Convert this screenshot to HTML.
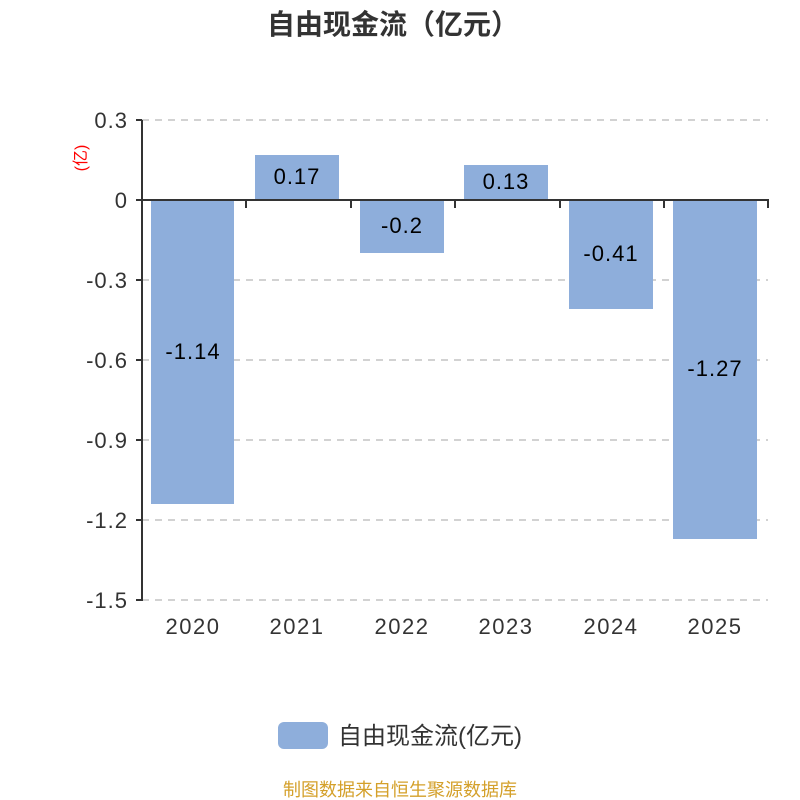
<!DOCTYPE html>
<html><head><meta charset="utf-8"><style>
html,body{margin:0;padding:0;background:#fff;}
svg{display:block;font-family:"Liberation Sans","Noto Sans CJK SC",sans-serif;}
</style></head><body>
<svg width="800" height="800" viewBox="0 0 800 800" xmlns="http://www.w3.org/2000/svg">
<text x="393" y="34" text-anchor="middle" font-size="28" font-weight="bold" fill="#333">自由现金流（亿元）</text>
<g stroke="#c4c4c4" stroke-width="1.5" stroke-dasharray="7,6">
<line x1="142" y1="120" x2="768" y2="120"/>
<line x1="142" y1="280" x2="768" y2="280"/>
<line x1="142" y1="360" x2="768" y2="360"/>
<line x1="142" y1="440" x2="768" y2="440"/>
<line x1="142" y1="520" x2="768" y2="520"/>
<line x1="142" y1="600" x2="768" y2="600"/>
</g>
<g fill="#8eaedb">
<rect x="151" y="200" width="83" height="304"/>
<rect x="255" y="155" width="84" height="45"/>
<rect x="360" y="200" width="84" height="53"/>
<rect x="464" y="165" width="84" height="35"/>
<rect x="569" y="200" width="84" height="109"/>
<rect x="673" y="200" width="84" height="339"/>
</g>
<g stroke="#333" stroke-width="2" fill="none">
<line x1="142" y1="120" x2="142" y2="601"/>
<line x1="136" y1="120" x2="142" y2="120"/>
<line x1="136" y1="200" x2="142" y2="200"/>
<line x1="136" y1="280" x2="142" y2="280"/>
<line x1="136" y1="360" x2="142" y2="360"/>
<line x1="136" y1="440" x2="142" y2="440"/>
<line x1="136" y1="520" x2="142" y2="520"/>
<line x1="136" y1="600" x2="142" y2="600"/>
<line x1="136" y1="200" x2="769" y2="200"/>
<line x1="246" y1="200" x2="246" y2="208"/>
<line x1="351" y1="200" x2="351" y2="208"/>
<line x1="455" y1="200" x2="455" y2="208"/>
<line x1="560" y1="200" x2="560" y2="208"/>
<line x1="664" y1="200" x2="664" y2="208"/>
<line x1="768" y1="200" x2="768" y2="208"/>
</g>
<g font-size="22" fill="#333" text-anchor="end" letter-spacing="1">
<text x="128" y="128">0.3</text>
<text x="128" y="208">0</text>
<text x="128" y="288">-0.3</text>
<text x="128" y="368">-0.6</text>
<text x="128" y="448">-0.9</text>
<text x="128" y="528">-1.2</text>
<text x="128" y="608">-1.5</text>
</g>
<text transform="translate(86,158) rotate(-90)" font-size="16" fill="#f00" text-anchor="middle">(亿)</text>
<g font-size="22" fill="#333" text-anchor="middle" letter-spacing="1.5">
<text x="193" y="634">2020</text>
<text x="297" y="634">2021</text>
<text x="402" y="634">2022</text>
<text x="506" y="634">2023</text>
<text x="611" y="634">2024</text>
<text x="715" y="634">2025</text>
</g>
<g font-size="22" fill="#000" text-anchor="middle" letter-spacing="1">
<text x="193" y="359">-1.14</text>
<text x="297" y="184">0.17</text>
<text x="402" y="233">-0.2</text>
<text x="506" y="189">0.13</text>
<text x="611" y="261">-0.41</text>
<text x="715" y="376">-1.27</text>
</g>
<rect x="278" y="722" width="50" height="27" rx="6" fill="#8eaedb"/>
<text x="338" y="744" font-size="24" fill="#333">自由现金流(亿元)</text>
<text x="400" y="796" text-anchor="middle" font-size="18" fill="#d4a02a">制图数据来自恒生聚源数据库</text>
</svg>
</body></html>
